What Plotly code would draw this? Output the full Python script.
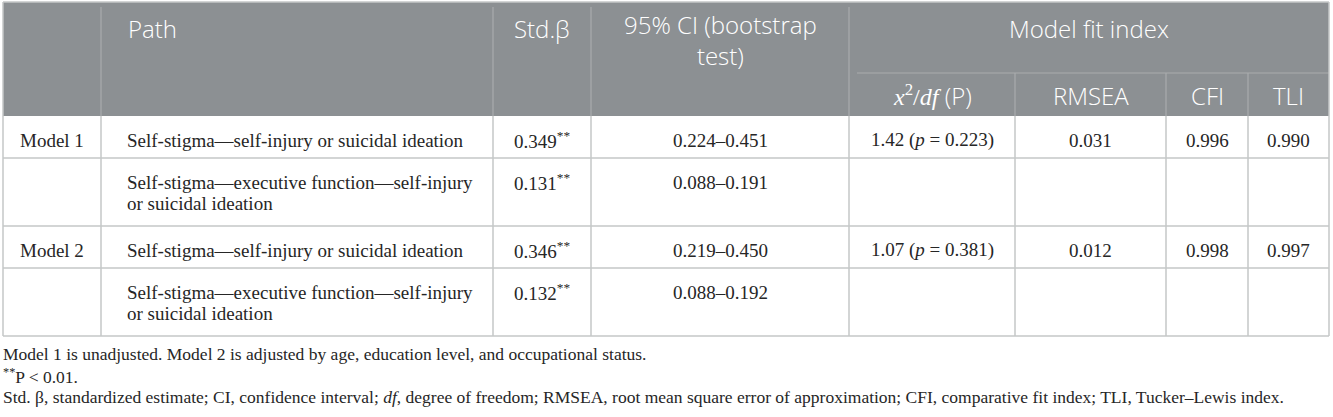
#!/bin/env python3

# packages
import plotly.graph_objects as go

# table data
models = ["Model 1", "", "Model 2", ""]
paths = ["Self-stigma\u2014self-injury or suicidal ideation",
	"Self-stigma\u2014executive function\u2014self-injury\nor suicidal ideation",
	"Self-stigma\u2014self-injury or suicidal ideation",
	"Self-stigma\u2014executive function\u2014self-injury\nor suicidal ideation"]
std_beta = ["0.349", "0.131", "0.346", "0.132"]
signif = ["**", "**", "**", "**"]
ci = ["0.224\u20130.451", "0.088\u20130.191", "0.219\u20130.450", "0.088\u20130.192"]
chi_df = ["1.42", "", "1.07", ""]
chi_p = ["0.223", "", "0.381", ""]
rmsea = ["0.031", "", "0.012", ""]
cfi = ["0.996", "", "0.998", ""]
tli = ["0.990", "", "0.997", ""]

headers = ["", "Path", "Std.\u03b2", "95% CI (bootstrap<br>test)"]
group_header = "Model fit index"
sub_headers = ["<span style=\"font-family:'Liberation Serif'\"><i>x</i><sup>2</sup>/<i>df</i></span> (P)",
	"RMSEA", "CFI", "TLI"]

notes = ["Model 1 is unadjusted. Model 2 is adjusted by age, education level, and occupational status.",
	"<sup>**</sup>P < 0.01.",
	"Std. \u03b2, standardized estimate; CI, confidence interval; <i>df</i>, degree of freedom; RMSEA, root mean square error of approximation; CFI, comparative fit index; TLI, Tucker\u2013Lewis index."]

# layout (pixels)
W, H = 1333, 417
col_x = [3, 101, 493, 591, 849, 1015, 1166, 1248, 1329]
top, head_bot, sub_y = 2, 116, 73
line_h = 21
head_bg = "#8c9093"
head_line = "#a9acae"
grid = "#c5c7c7"
txt = "#262626"
serif = "Liberation Serif"
sans = "Open Sans"
head_size = 24

fig = go.Figure()
shapes = []
ann = []

def text(x, y, s, size=19, color=txt, family=serif, xanchor="center", weight=400):
	if not s:
		return
	ann.append(dict(x=x, y=y, text=s, xref="x", yref="y", showarrow=False,
		xanchor=xanchor, yanchor="middle",
		font=dict(family=family, size=size, color=color, weight=weight)))

# header background
shapes.append(dict(type="rect", x0=col_x[0], x1=col_x[-1], y0=top, y1=head_bot,
	fillcolor=head_bg, line_width=0, layer="below"))
shapes.append(dict(type="line", x0=col_x[0], x1=col_x[-1], y0=top, y1=top,
	line=dict(color=grid, width=1.5)))
for x in col_x[1:5]:
	shapes.append(dict(type="line", x0=x, x1=x, y0=top + 5, y1=head_bot,
		line=dict(color=head_line, width=1.2)))
for x in col_x[5:8]:
	shapes.append(dict(type="line", x0=x, x1=x, y0=sub_y, y1=head_bot,
		line=dict(color=head_line, width=1.2)))
shapes.append(dict(type="line", x0=col_x[4] + 8, x1=col_x[-1], y0=sub_y, y1=sub_y,
	line=dict(color=head_line, width=1.2)))

# header texts
for i, h in enumerate(headers):
	if i == 1:
		text(col_x[1] + 25, 28, h, head_size, "white", sans, "left", 300)
	elif "<br>" in h:
		text((col_x[i] + col_x[i + 1]) / 2, 40, h, head_size, "white", sans, weight=300)
	else:
		text((col_x[i] + col_x[i + 1]) / 2, 28, h, head_size, "white", sans, weight=300)
text((col_x[4] + col_x[-1]) / 2, 28, group_header, head_size, "white", sans, weight=300)
for j, h in enumerate(sub_headers):
	text((col_x[4 + j] + col_x[5 + j]) / 2, 95, h, head_size, "white", sans, weight=300)

# body rows
y = head_bot
row_tops = []
for i in range(len(models)):
	n_lines = len(paths[i].split("\n"))
	row_tops.append(y)
	c = y + 24
	text((col_x[0] + col_x[1]) / 2, c, models[i])
	for k, part in enumerate(paths[i].split("\n")):
		text(col_x[1] + 24, c + k * line_h, part, xanchor="left")
	text((col_x[2] + col_x[3]) / 2, c, std_beta[i] + "<sup>" + signif[i] + "</sup>")
	text((col_x[3] + col_x[4]) / 2, c, ci[i])
	if chi_df[i]:
		text((col_x[4] + col_x[5]) / 2, c, chi_df[i] + " (<i>p</i> = " + chi_p[i] + ")")
	text((col_x[5] + col_x[6]) / 2, c, rmsea[i])
	text((col_x[6] + col_x[7]) / 2, c, cfi[i])
	text((col_x[7] + col_x[8]) / 2, c, tli[i])
	y += 42 + 26 * (n_lines - 1)
bottom = y

# grid lines
for yy in row_tops[1:] + [bottom]:
	shapes.append(dict(type="line", x0=col_x[0], x1=col_x[-1], y0=yy, y1=yy,
		line=dict(color=grid, width=1.5)))
for x in col_x[1:-1]:
	shapes.append(dict(type="line", x0=x, x1=x, y0=head_bot, y1=bottom,
		line=dict(color=grid, width=1.5)))
for x in [col_x[0], col_x[-1]]:
	shapes.append(dict(type="line", x0=x, x1=x, y0=top, y1=bottom,
		line=dict(color=grid, width=1.5)))

# footnotes
for k, s in enumerate(notes):
	text(1, bottom + 18 + k * 21.5, s, 17.5, xanchor="left")

fig.update_layout(
	width=W, height=H,
	margin=dict(l=0, r=0, t=0, b=0),
	paper_bgcolor="white", plot_bgcolor="white",
	xaxis=dict(range=[0, W], visible=False, fixedrange=True),
	yaxis=dict(range=[H, 0], visible=False, fixedrange=True),
	shapes=shapes, annotations=ann,
	showlegend=False)

fig.write_html("out.html", config={"displayModeBar": False},
	post_script="document.body.style.margin='0';")
